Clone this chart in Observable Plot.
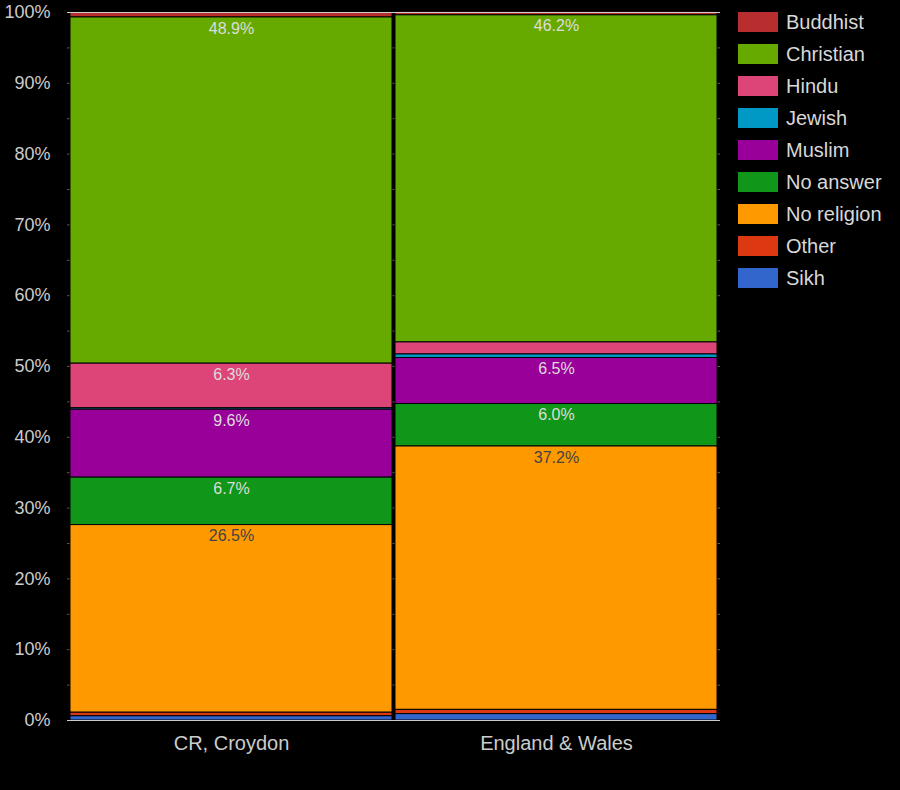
<!DOCTYPE html>
<html>
<head>
<meta charset="utf-8">
<script src="https://cdn.jsdelivr.net/npm/d3@7"></script>
<script src="https://cdn.jsdelivr.net/npm/@observablehq/plot@0.6"></script>
<style>
  html, body { margin: 0; padding: 0; background: #000; }
  #wrap { position: relative; width: 900px; height: 790px; background: #000; font-family: "Liberation Sans", Arial, sans-serif; }
  #chart { position: absolute; left: 0; top: 0; }
  #legend { position: absolute; left: 738px; top: 12px; }
  .item { display: flex; align-items: center; height: 20px; margin-bottom: 12px; }
  .sw { width: 40px; height: 20px; margin-right: 8px; }
  .lbl { color: #d8d8d8; font-size: 20px; line-height: 20px; }
</style>
</head>
<body>
<div id="wrap">
  <div id="chart"></div>
  <div id="legend"></div>
</div>
<script>
const categories = ["CR, Croydon", "England & Wales"];
const religions = ["Buddhist", "Christian", "Hindu", "Jewish", "Muslim", "No answer", "No religion", "Other", "Sikh"];
const croydon = [0.7, 48.9, 6.3, 0.2, 9.6, 6.7, 26.5, 0.5, 0.6];
const englandWales = [0.5, 46.2, 1.7, 0.5, 6.5, 6.0, 37.2, 0.6, 0.9];
const colors = ["#b82e2e", "#66aa00", "#dd4477", "#0099c6", "#990099", "#109618", "#ff9900", "#dc3912", "#3366cc"];
const stackOrder = ["Sikh", "Other", "No religion", "No answer", "Muslim", "Jewish", "Hindu", "Christian", "Buddhist"];
const yTicks = [0, 10, 20, 30, 40, 50, 60, 70, 80, 90, 100];
const gridTicks = [0, 5, 10, 15, 20, 25, 30, 35, 40, 45, 50, 55, 60, 65, 70, 75, 80, 85, 90, 95, 100];

const series = [croydon, englandWales];
const data = categories.flatMap((c, i) => religions.map((r, j) => ({area: c, religion: r, value: series[i][j]})));

const chart = Plot.plot({
  width: 730,
  height: 790,
  marginTop: 12,
  marginBottom: 70,
  marginLeft: 67,
  marginRight: 10,
  style: {background: "#000", color: "#cccccc", fontFamily: "'Liberation Sans', Arial, sans-serif", fontSize: "18px"},
  x: {domain: categories, padding: 0.00923, label: null, tickSize: 0, tickPadding: 15},
  y: {domain: [0, 100], label: null, ticks: yTicks, tickFormat: d => d + "%", tickSize: 0, tickPadding: 17},
  color: {domain: religions, range: colors},
  marks: [
    Plot.ruleY(gridTicks, {stroke: "#5a5a5a"}),
    Plot.barY(data, {x: "area", y: "value", fill: "religion", order: stackOrder, stroke: "#000", strokeWidth: 1}),
    Plot.text(data, Plot.stackY2({
      x: "area", y: "value", z: "religion", order: stackOrder,
      text: d => d.value >= 3 ? d.value.toFixed(1) + "%" : "",
      fill: d => d.religion === "No religion" ? "#444444" : "#dddddd",
      dy: 11, fontSize: 16
    })),
    Plot.ruleY([0, 100], {stroke: "#cccccc"}),
    Plot.axisX({tickSize: 0, tickPadding: 15, fontSize: 20, label: null})
  ]
});
document.getElementById("chart").appendChild(chart);

const legend = document.getElementById("legend");
religions.forEach((r, i) => {
  const item = document.createElement("div");
  item.className = "item";
  const sw = document.createElement("div");
  sw.className = "sw";
  sw.style.background = colors[i];
  const lbl = document.createElement("span");
  lbl.className = "lbl";
  lbl.textContent = r;
  item.appendChild(sw);
  item.appendChild(lbl);
  legend.appendChild(item);
});
</script>
</body>
</html>
